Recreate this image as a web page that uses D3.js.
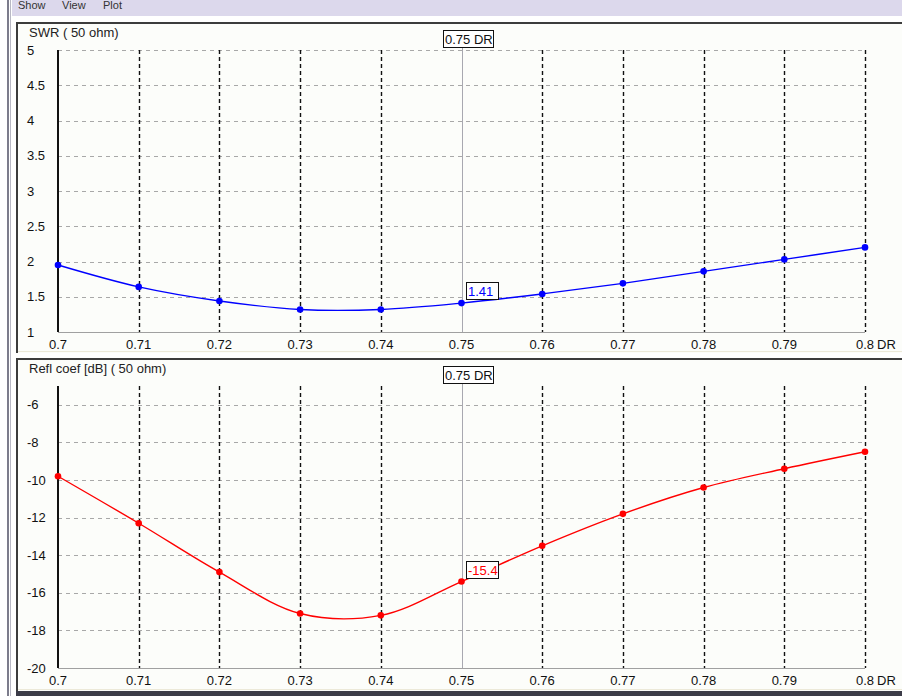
<!DOCTYPE html>
<html><head><meta charset="utf-8">
<script src="https://cdn.jsdelivr.net/npm/d3@7"></script>
<style>html,body{margin:0;padding:0;background:#fff;overflow:hidden}svg{display:block}</style>
</head><body>
<script>
// ---- data ----
const drValues = [0.70, 0.71, 0.72, 0.73, 0.74, 0.75, 0.76, 0.77, 0.78, 0.79, 0.80];
const swrValues = [1.95, 1.64, 1.44, 1.32, 1.32, 1.41, 1.54, 1.69, 1.86, 2.03, 2.20];
const reflValues = [-9.8, -12.3, -14.9, -17.1, -17.2, -15.4, -13.5, -11.8, -10.4, -9.4, -8.5];
const xTickValues = [0.70, 0.71, 0.72, 0.73, 0.74, 0.75, 0.76, 0.77, 0.78, 0.79, 0.80];
const swrTicks = [1, 1.5, 2, 2.5, 3, 3.5, 4, 4.5, 5];
const reflTicks = [-20, -18, -16, -14, -12, -10, -8, -6];
const menuItems = ["Show", "View", "Plot"];
const cursorX = 0.75;
const cursorLabel = "0.75 DR";
const xUnit = "DR";
const panelTitles = ["SWR ( 50 ohm)", "Refl coef [dB] ( 50 ohm)"];

const W = 902, H = 696;
const FONT = "'Liberation Sans', Arial, sans-serif";
const FS = 13;
const svg = d3.select("body").append("svg").attr("width", W).attr("height", H);

// window chrome
svg.append("rect").attr("x", 0).attr("y", 0).attr("width", W).attr("height", H).attr("fill", "#ffffff");
svg.append("rect").attr("x", 12).attr("y", 0).attr("width", W - 12).attr("height", 16).attr("fill", "#dcd8ec");
const menuX = [18, 62, 103];
menuItems.forEach((m, i) => svg.append("text").attr("x", menuX[i]).attr("y", 9)
  .attr("font-family", FONT).attr("font-size", 11).attr("fill", "#333").text(m));
svg.append("rect").attr("x", 7).attr("y", 0).attr("width", 2).attr("height", H).attr("fill", "#7c7c8c");
svg.append("rect").attr("x", 10).attr("y", 0).attr("width", 1).attr("height", H).attr("fill", "#b8b8c4");

const x = d3.scaleLinear().domain([0.7, 0.8]).range([58, 865]);

function panel(opt) {
  const g = svg.append("g");
  // frame
  g.append("rect").attr("x", 16).attr("y", opt.top).attr("width", W - 16).attr("height", opt.bottom - opt.top)
    .attr("fill", "#fcfdfa");
  g.append("rect").attr("x", 16).attr("y", opt.top).attr("width", W - 16).attr("height", 2).attr("fill", "#3c3c3c");
  g.append("rect").attr("x", 16).attr("y", opt.top).attr("width", 2).attr("height", opt.bottom - opt.top).attr("fill", "#3c3c3c");
  g.append("rect").attr("x", 18).attr("y", opt.bottom - 2).attr("width", W - 18).attr("height", 1).attr("fill", "#ece9d8");

  const y = d3.scaleLinear().domain(opt.domain).range([opt.yBottom, opt.yTop]);

  // horizontal grid (grey dashed)
  g.selectAll(".hg").data(opt.ticks.filter(t => t !== opt.domain[0])).enter().append("line")
    .attr("x1", x(0.7)).attr("x2", x(0.8)).attr("y1", d => Math.round(y(d)) + 0.5).attr("y2", d => Math.round(y(d)) + 0.5)
    .attr("stroke", "#a8a8a8").attr("stroke-width", 1).attr("stroke-dasharray", "4,4");
  // vertical grid (black dashed)
  g.selectAll(".vg").data(xTickValues.filter(t => t > 0.7 && t !== cursorX)).enter().append("line")
    .attr("x1", d => Math.round(x(d)) + 0.5).attr("x2", d => Math.round(x(d)) + 0.5)
    .attr("y1", opt.yTop).attr("y2", opt.yBottom)
    .attr("stroke", "#111").attr("stroke-width", 1.4).attr("stroke-dasharray", "4,3");
  // cursor line
  g.append("line").attr("x1", Math.round(x(cursorX)) + 0.5).attr("x2", Math.round(x(cursorX)) + 0.5)
    .attr("y1", opt.top + 25).attr("y2", opt.yBottom).attr("stroke", "#a8a8b0").attr("stroke-width", 1);
  // x axis line
  g.append("line").attr("x1", x(0.7)).attr("x2", x(0.8)).attr("y1", opt.yBottom + 0.5).attr("y2", opt.yBottom + 0.5)
    .attr("stroke", "#a0a0a0").attr("stroke-width", 1);
  // y axis line
  g.append("line").attr("x1", x(0.7)).attr("x2", x(0.7)).attr("y1", opt.yTop).attr("y2", opt.yBottom)
    .attr("stroke", "#111").attr("stroke-width", 2);

  // y tick labels
  g.selectAll(".yl").data(opt.ticks).enter().append("text")
    .attr("x", 27).attr("y", d => y(d)).attr("dy", "0.35em")
    .attr("font-family", FONT).attr("font-size", FS).attr("fill", "#111").text(d => String(d));
  // x tick labels
  g.selectAll(".xl").data(xTickValues).enter().append("text")
    .attr("x", d => x(d)).attr("y", opt.yBottom + 17).attr("text-anchor", "middle")
    .attr("font-family", FONT).attr("font-size", FS).attr("fill", "#111").text(d => String(+d.toFixed(2)));
  g.append("text").attr("x", 877).attr("y", opt.yBottom + 17)
    .attr("font-family", FONT).attr("font-size", FS).attr("fill", "#111").text(xUnit);
  // title
  g.append("text").attr("x", 29).attr("y", opt.top + 15)
    .attr("font-family", FONT).attr("font-size", FS).attr("fill", "#222").text(opt.title);

  // cursor label
  const cx = Math.round(x(cursorX));
  g.append("rect").attr("x", cx - 18.5).attr("y", opt.top + 8.5).attr("width", 50).attr("height", 17)
    .attr("fill", "#fff").attr("stroke", "#111").attr("stroke-width", 1);
  g.append("text").attr("x", cx - 17).attr("y", opt.top + 22)
    .attr("font-family", FONT).attr("font-size", FS).attr("fill", "#111").text(cursorLabel);

  // series
  const pts = drValues.map((d, i) => [d, opt.values[i]]);
  const line = d3.line().x(d => x(d[0])).y(d => y(d[1])).curve(d3.curveCatmullRom.alpha(0.5));
  g.append("path").attr("d", line(pts)).attr("fill", "none").attr("stroke", opt.color).attr("stroke-width", 1.4);
  g.selectAll(".pt").data(pts).enter().append("circle")
    .attr("cx", d => x(d[0])).attr("cy", d => y(d[1])).attr("r", 3.3).attr("fill", opt.color);

  // value label at cursor
  const vi = drValues.indexOf(cursorX);
  const vy = y(opt.values[vi]);
  const lbl = String(opt.values[vi]);
  g.append("rect").attr("x", cx + 4.5).attr("y", Math.round(vy) - 20.5).attr("width", 32).attr("height", 17)
    .attr("fill", "#fff").attr("stroke", "#111").attr("stroke-width", 1);
  g.append("text").attr("x", cx + 6).attr("y", Math.round(vy) - 7.5)
    .attr("font-family", FONT).attr("font-size", FS).attr("fill", opt.color).text(lbl);
}

panel({top: 22, bottom: 353, yTop: 50, yBottom: 332, domain: [1, 5], ticks: swrTicks,
  values: swrValues, color: "#0000ff", title: panelTitles[0]});
panel({top: 358, bottom: 691, yTop: 386, yBottom: 668, domain: [-20, -5], ticks: reflTicks,
  values: reflValues, color: "#ff0000", title: panelTitles[1]});

svg.append("rect").attr("x", 16).attr("y", 691).attr("width", W - 16).attr("height", 5).attr("fill", "#3c3c48");
</script>
</body></html>
